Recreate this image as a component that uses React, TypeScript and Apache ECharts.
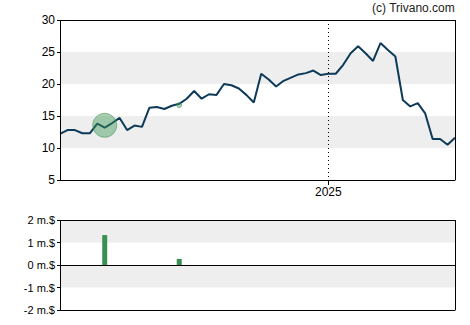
import React, { useEffect, useRef } from "react";
import * as echarts from "echarts";

// Weekly closing prices (USD)
const prices: number[] = [
  12.2, 12.8, 12.8, 12.3, 12.3, 13.8, 13.2, 13.9, 14.7, 12.8,
  13.5, 13.3, 16.3, 16.4, 16.1, 16.6, 16.9, 17.7, 18.9, 17.7,
  18.4, 18.3, 20.0, 19.8, 19.3, 18.3, 17.1, 21.6, 20.7, 19.6,
  20.5, 21.0, 21.5, 21.7, 22.1, 21.4, 21.6, 21.6, 23.0, 24.8,
  25.9, 24.8, 23.6, 26.4, 25.3, 24.3, 17.5, 16.5, 17.0, 15.4,
  11.4, 11.4, 10.5, 11.6,
];

// Insider trade events: week index, marker price, volume (million $)
const eventIndex: number[] = [6, 16];
const eventPrice: number[] = [13.55, 16.7];
const eventVolume: number[] = [1.33, 0.27];

const priceTicks = { min: 5, max: 30, interval: 5 };
const volumeTicks = { min: -2, max: 2, interval: 1 };
const yearLabel = "2025";

// Week categories: weekly dates starting 2024-04-26
const startDate = new Date(Date.UTC(2024, 3, 26));
const categories: string[] = prices.map((_, i) => {
  const d = new Date(startDate.getTime() + i * 7 * 86400000);
  return d.toISOString().slice(0, 10);
});

const isYearStart = (idx: number) =>
  idx > 0 && categories[idx].slice(0, 4) !== categories[idx - 1].slice(0, 4);
const isEdge = (idx: number) => idx === 0 || idx === categories.length - 1;

export default function App() {
  const ref = useRef<HTMLDivElement>(null);
  useEffect(() => {
    if (!ref.current) return;
    const chart = echarts.init(ref.current, undefined, { renderer: "svg" });
    const volumeData = categories.map((_, i) => {
      const k = eventIndex.indexOf(i);
      return k >= 0 ? eventVolume[k] : null;
    });
    const font = "Arial, 'Liberation Sans', sans-serif";
    const black = { color: "#000", width: 1 };
    // top frame axis: draws top border and left/right borders (split lines at the ends)
    const topFrame = (gridIndex: number) => ({
      type: "category",
      gridIndex,
      position: "top",
      data: categories,
      boundaryGap: false,
      z: 10,
      axisLine: { show: true, onZero: false, lineStyle: black },
      axisTick: { show: false },
      axisLabel: { show: false },
      splitLine: { show: true, interval: isEdge, lineStyle: { ...black, type: "solid" } },
    });
    const bands = { show: true, areaStyle: { color: ["#ffffff", "#eeeeee"] } };
    const volGrid = { left: 60, right: 15, top: 220, height: 90 };
    chart.setOption({
      animation: false,
      textStyle: { fontFamily: font },
      graphic: [
        {
          type: "text",
          right: 15,
          top: 2,
          style: { text: "(c) Trivano.com", fontSize: 12, fill: "#222", fontFamily: font },
        },
      ],
      grid: [{ left: 60, right: 15, top: 20, height: 160 }, volGrid, volGrid],
      xAxis: [
        {
          type: "category",
          gridIndex: 0,
          position: "bottom",
          data: categories,
          boundaryGap: false,
          z: 10,
          axisLine: { show: true, onZero: false, lineStyle: black },
          axisTick: { show: true, interval: isYearStart, length: 5, lineStyle: black },
          axisLabel: {
            interval: isYearStart,
            formatter: (v: string) => (v.slice(0, 4) === yearLabel ? yearLabel : ""),
            color: "#000",
            fontSize: 12,
            margin: 6,
          },
          splitLine: { show: true, interval: isYearStart, lineStyle: { ...black, type: [1, 3] } },
        },
        topFrame(0),
        // volume panel: axis line on zero
        {
          type: "category",
          gridIndex: 1,
          position: "bottom",
          data: categories,
          boundaryGap: false,
          z: 10,
          axisLine: { show: true, onZero: true, lineStyle: black },
          axisTick: { show: false },
          axisLabel: { show: false },
          splitLine: { show: false },
        },
        topFrame(1),
        // volume panel bottom border
        {
          type: "category",
          gridIndex: 2,
          position: "bottom",
          data: categories,
          boundaryGap: false,
          z: 10,
          axisLine: { show: true, onZero: false, lineStyle: black },
          axisTick: { show: false },
          axisLabel: { show: false },
          splitLine: { show: false },
        },
      ],
      yAxis: [
        {
          type: "value",
          gridIndex: 0,
          ...priceTicks,
          axisLine: { show: false },
          axisTick: { show: true, length: 3, lineStyle: black },
          axisLabel: { color: "#000", fontSize: 12, margin: 5 },
          splitLine: { show: false },
          splitArea: bands,
        },
        {
          type: "value",
          gridIndex: 1,
          ...volumeTicks,
          axisLine: { show: false },
          axisTick: { show: true, length: 3, lineStyle: black },
          axisLabel: { color: "#000", fontSize: 11, margin: 5, formatter: (v: number) => `${v} m.$` },
          splitLine: { show: false },
          splitArea: bands,
        },
        {
          type: "value",
          gridIndex: 2,
          ...volumeTicks,
          show: false,
        },
      ],
      series: [
        {
          type: "line",
          xAxisIndex: 0,
          yAxisIndex: 0,
          data: prices,
          symbol: "none",
          lineStyle: { color: "#0d3a58", width: 2 },
          z: 3,
        },
        {
          type: "scatter",
          xAxisIndex: 0,
          yAxisIndex: 0,
          data: eventIndex.map((idx, k) => ({
            value: [idx, eventPrice[k]],
            symbolSize: eventVolume[k] * 18,
          })),
          itemStyle: { color: "rgba(60,150,85,0.55)", borderColor: "rgba(60,140,80,0.7)", borderWidth: 1 },
          z: 4,
        },
        {
          type: "bar",
          xAxisIndex: 2,
          yAxisIndex: 1,
          data: volumeData,
          barWidth: 5,
          itemStyle: { color: "#3a8f52" },
          z: 3,
        },
      ],
    });
    return () => chart.dispose();
  }, []);
  return (
    <div style={{ position: "fixed", left: 0, top: 0, width: 470, height: 325, background: "#fff" }}>
      <div ref={ref} style={{ width: 470, height: 325 }} />
    </div>
  );
}
